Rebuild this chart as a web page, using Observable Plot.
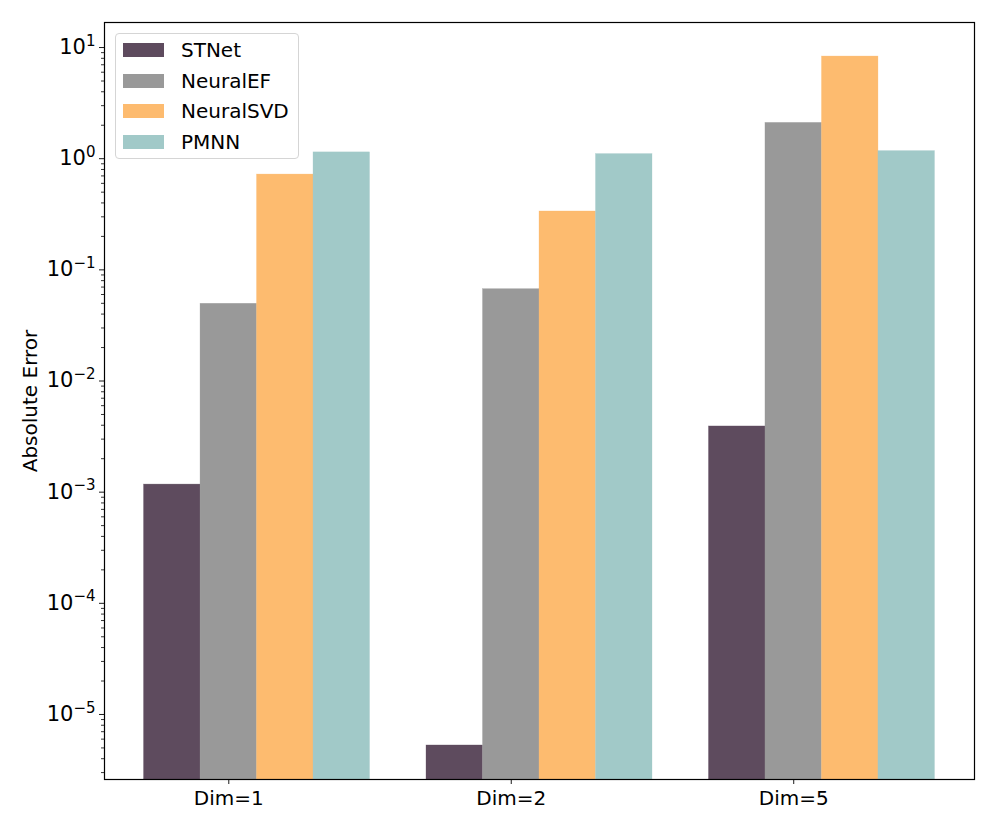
<!DOCTYPE html>
<html>
<head>
<meta charset="utf-8">
<script src="https://cdn.jsdelivr.net/npm/d3@7"></script>
<script src="https://cdn.jsdelivr.net/npm/@observablehq/plot@0.6"></script>
<style>
  html, body { margin: 0; padding: 0; background: #fff; }
  #wrap { position: relative; width: 997px; height: 830px; font-family: "DejaVu Sans", sans-serif; }
  #legend { position: absolute; left: 115px; top: 33px; width: 184px; height: 126px;
    border: 1px solid #d5d5d5; border-radius: 4px; background: rgba(255,255,255,0.85); box-sizing: border-box; }
  .lrow { position: absolute; left: 0; height: 30px; display: flex; align-items: center; }
  .lpatch { position: absolute; left: 7px; width: 41px; height: 14px; }
  .ltext { position: absolute; left: 65px; font-size: 20px; white-space: nowrap; color: #000; }
</style>
</head>
<body>
<div id="wrap"></div>
<script>
const categories = ["Dim=1", "Dim=2", "Dim=5"];
const seriesNames = ["STNet", "NeuralEF", "NeuralSVD", "PMNN"];
const stnet = [1.17e-3, 5.26e-6, 3.9e-3];
const neuralEF = [0.0495, 0.067, 2.10];
const neuralSVD = [0.72, 0.335, 8.3];
const pmnn = [1.14, 1.10, 1.17];
const colors = ["#5e4b5e", "#999999", "#fdbb6f", "#a1c9c8"];
const yTickExponents = [-5, -4, -3, -2, -1, 0, 1];
const yDomain = [2.6e-6, 16.8];
const yLabel = "Absolute Error";

const seriesValues = [stnet, neuralEF, neuralSVD, pmnn];
const rows = [];
seriesNames.forEach((s, j) => {
  categories.forEach((c, i) => {
    rows.push({series: s, cat: c, i, j, value: seriesValues[j][i]});
  });
});

const barW = 0.2;
const majorTicks = yTickExponents.map(e => Math.pow(10, e));
const minorTicks = [];
for (let e = -6; e <= 1; e++) {
  for (let m = 2; m <= 9; m++) {
    const v = m * Math.pow(10, e);
    if (v >= yDomain[0] && v <= yDomain[1]) minorTicks.push(v);
  }
}

const chart = Plot.plot({
  width: 997,
  height: 830,
  marginLeft: 104,
  marginRight: 23,
  marginTop: 22,
  marginBottom: 51,
  style: {fontFamily: "DejaVu Sans, sans-serif", fontSize: "20px", color: "#000", background: "#fff", overflow: "visible"},
  x: {type: "linear", domain: [-0.44, 2.64]},
  y: {type: "log", domain: yDomain},
  color: {domain: seriesNames, range: colors},
  marks: [
    Plot.rect(rows, {
      x1: d => d.i + (d.j - 1) * barW - barW / 2,
      x2: d => d.i + (d.j - 1) * barW + barW / 2,
      y1: () => yDomain[0],
      y2: "value",
      fill: "series",
      stroke: "series",
      strokeOpacity: 0.6,
      strokeWidth: 0.5
    }),
    Plot.axisY({ticks: minorTicks, tickSize: 3, tickFormat: () => "", label: null, stroke: "#000", strokeWidth: 0.8}),
    Plot.axisY({ticks: majorTicks, tickSize: 5, tickPadding: 4, strokeWidth: 0.9,
      tickFormat: v => "10^" + Math.round(Math.log10(v)),
      label: yLabel, labelAnchor: "center", labelArrow: "none", labelOffset: 82, fontSize: 20}),
    Plot.axisX({ticks: [0, 1, 2], tickSize: 5, tickPadding: 6, strokeWidth: 0.9,
      tickFormat: i => categories[i], label: null, fontSize: 20}),
    Plot.frame({stroke: "#000", strokeWidth: 1.2})
  ]
});

document.getElementById("wrap").appendChild(chart);

// superscript exponents on y tick labels
chart.querySelectorAll("text").forEach(t => {
  const s = t.textContent;
  const m = /^10\^(-?\d+)$/.exec(s);
  if (m) {
    const exp = m[1].replace("-", "\u2212");
    t.textContent = "";
    const base = document.createElementNS("http://www.w3.org/2000/svg", "tspan");
    base.textContent = "10";
    base.setAttribute("font-size", "21px");
    const sup = document.createElementNS("http://www.w3.org/2000/svg", "tspan");
    sup.textContent = exp;
    sup.setAttribute("dy", "-0.55em");
    sup.setAttribute("font-size", "15px");
    t.appendChild(base);
    t.appendChild(sup);
  }
});

// legend
const legend = document.createElement("div");
legend.id = "legend";
seriesNames.forEach((s, j) => {
  const row = document.createElement("div");
  row.className = "lrow";
  row.style.top = (1 + j * 30.5) + "px";
  const p = document.createElement("div");
  p.className = "lpatch";
  p.style.background = colors[j];
  p.style.top = "8px";
  const t = document.createElement("div");
  t.className = "ltext";
  t.style.top = "3px";
  t.textContent = s;
  row.appendChild(p);
  row.appendChild(t);
  legend.appendChild(row);
});
document.getElementById("wrap").appendChild(legend);
</script>
</body>
</html>
